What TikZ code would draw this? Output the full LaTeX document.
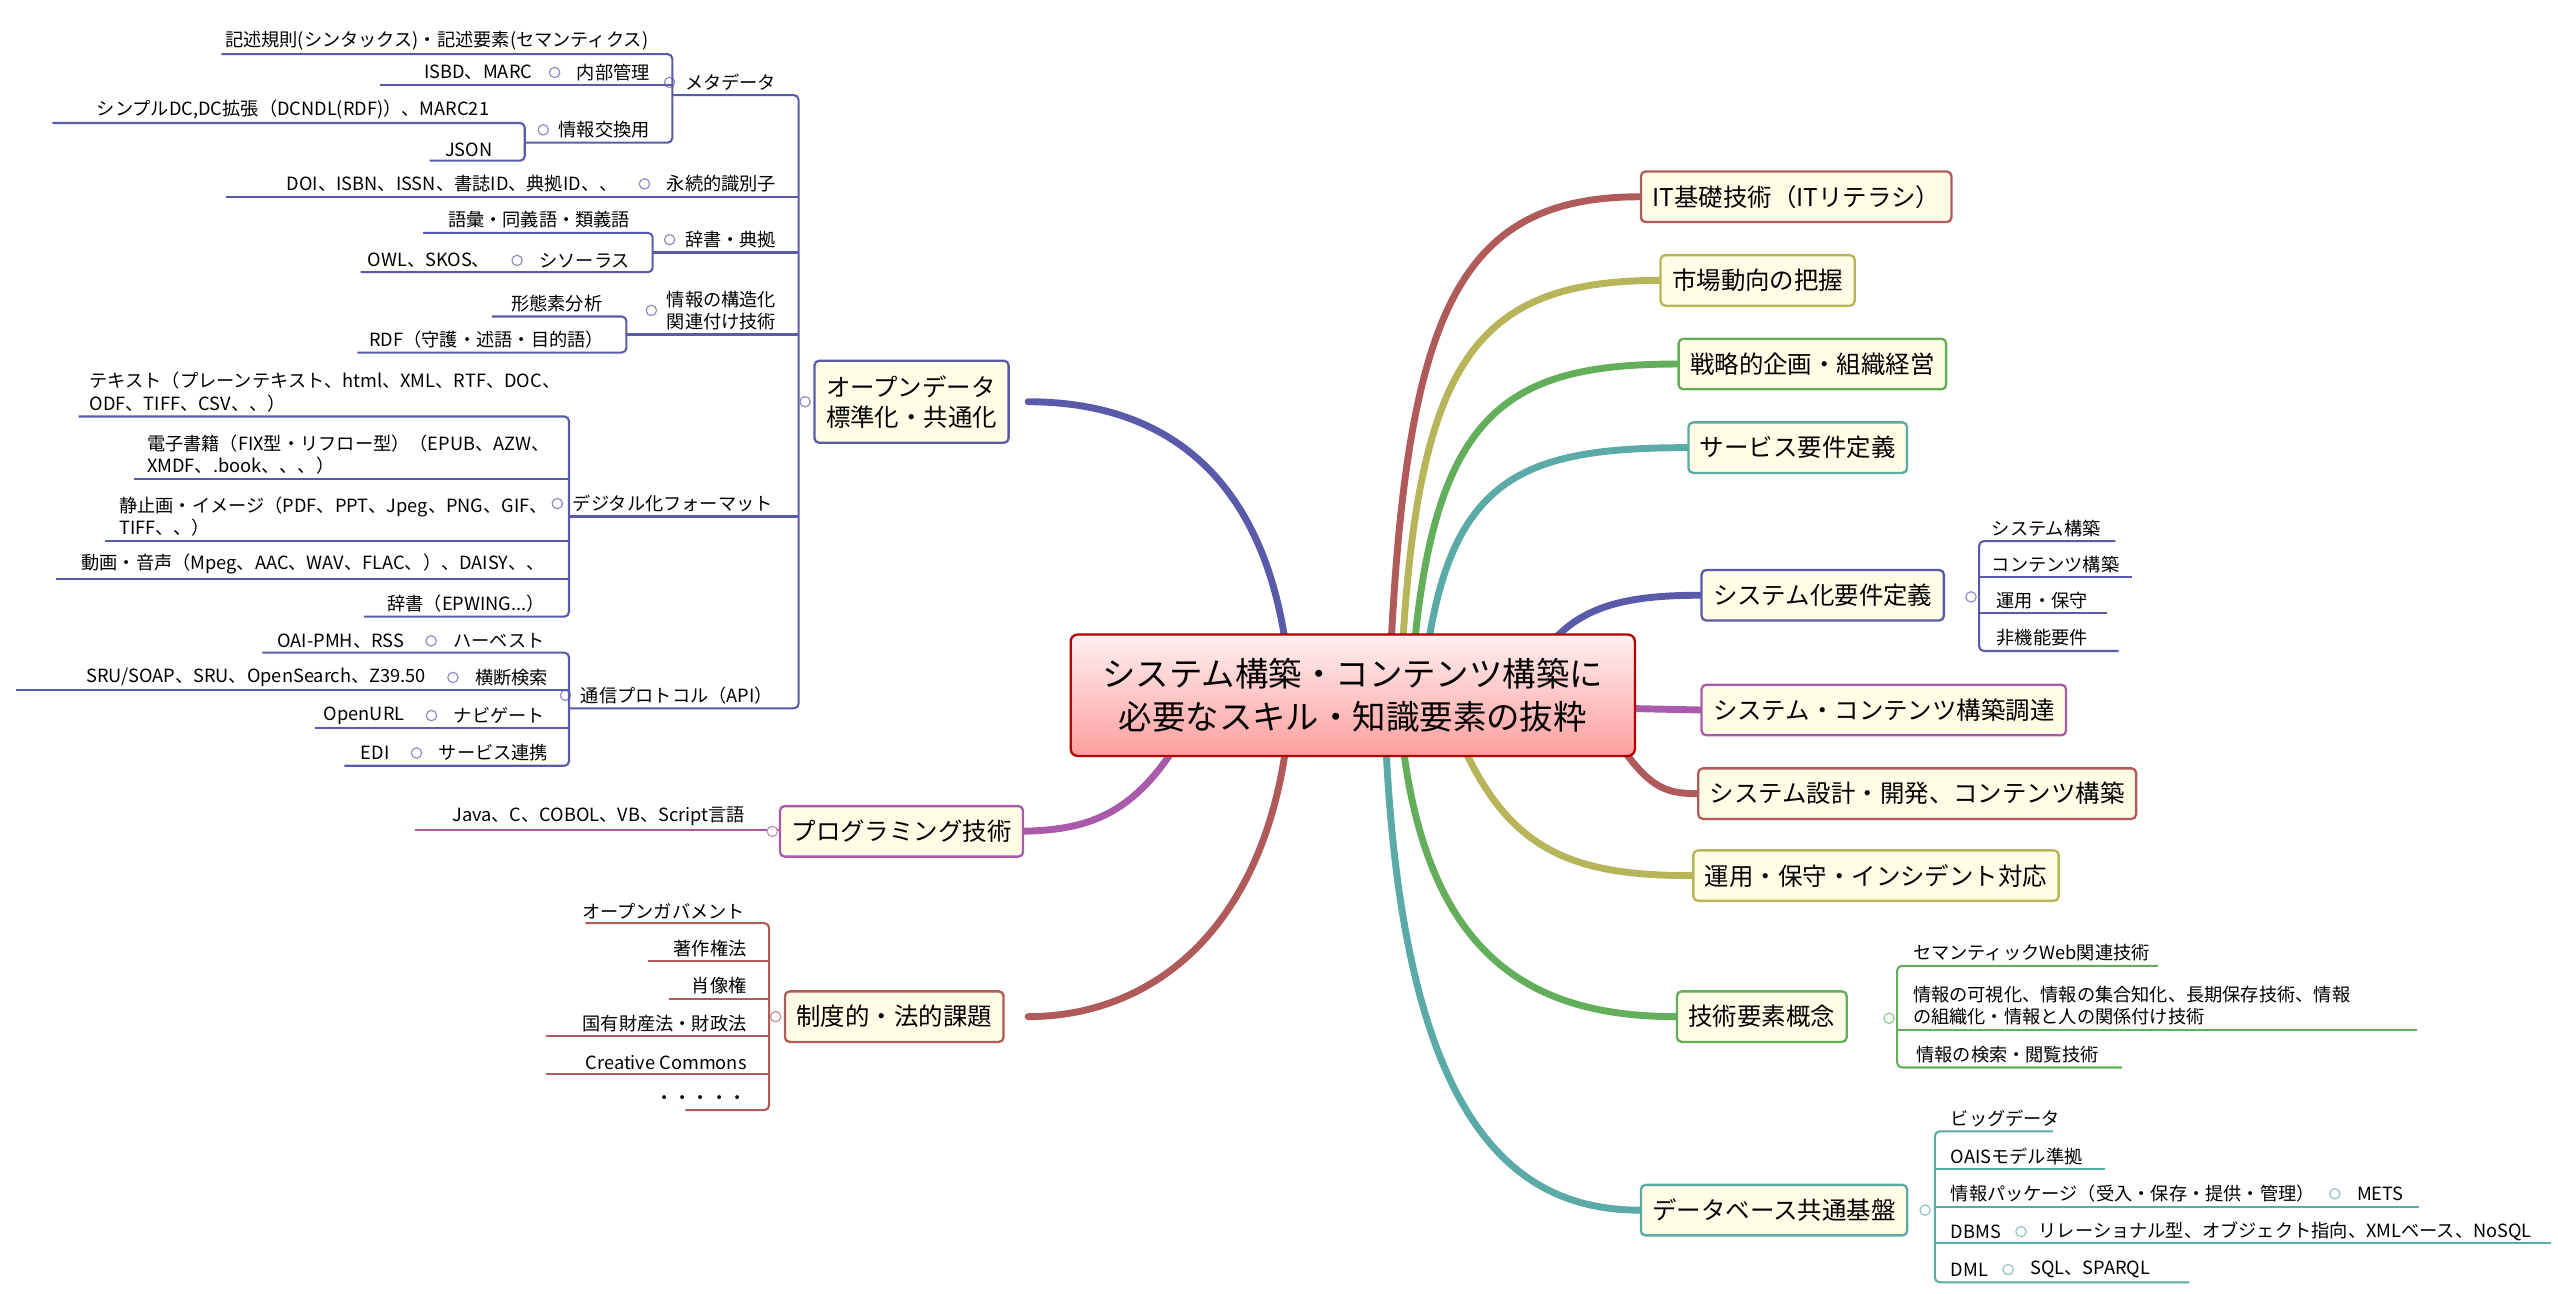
\documentclass[tikz,border=0pt]{standalone}
\usepackage{fontspec}
\setmainfont{Noto Sans CJK JP}
\usetikzlibrary{positioning}
\definecolor{cR}{HTML}{B05A5A}
\definecolor{cO}{HTML}{B8B45A}
\definecolor{cG}{HTML}{62AE5A}
\definecolor{cT}{HTML}{5AAAA8}
\definecolor{cB}{HTML}{5A5AAA}
\definecolor{cM}{HTML}{AA5AAA}
\definecolor{bfill}{HTML}{FFFDE6}
\tikzset{
 leaf/.style={font=\fontsize{7.9}{9.8}\selectfont, inner sep=1pt},
 mbox/.style={draw=#1, fill=bfill, rounded corners=2pt, line width=1pt, font=\fontsize{10.6}{13}\selectfont, inner xsep=5pt, minimum height=0.77cm, anchor=west},
 link/.style={draw=#1, line width=3pt, line cap=round},
 ln/.style={draw=#1, line width=0.9pt, rounded corners=2pt},
 tog/.style={circle, draw=#1!70, fill=white, inner sep=0pt, minimum size=4.5pt, line width=0.5pt}
}
\begin{document}
\begin{tikzpicture}[x=0.025cm,y=-0.025cm]
\useasboundingbox (0,0) rectangle (1560,789);
% connectors
\draw[link=cR] (848,400) .. controls (858,190) and (890,120) .. (1000,120);
\draw[link=cO] (855,400) .. controls (865,220) and (900,171) .. (1012,171);
\draw[link=cG] (862,400) .. controls (875,250) and (920,222) .. (1023,222);
\draw[link=cT] (870,400) .. controls (885,290) and (930,273) .. (1029,273);
\draw[link=cB] (940,400) .. controls (960,370) and (990,363) .. (1037,363);
\draw[link=cM] (990,432) -- (1037,433);
\draw[link=cR] (985,450) .. controls (1005,480) and (1015,484) .. (1035,484);
\draw[link=cO] (890,450) .. controls (920,520) and (960,534) .. (1032,534);
\draw[link=cG] (855,450) .. controls (870,580) and (930,620) .. (1022,620);
\draw[link=cT] (845,450) .. controls (855,680) and (920,738) .. (1000,738);
\draw[link=cB] (785,400) .. controls (770,280) and (700,245) .. (627,245);
\draw[link=cM] (720,450) .. controls (690,500) and (660,507) .. (617,507);
\draw[link=cR] (785,450) .. controls (770,570) and (700,620) .. (627,620);
% center
\node[draw=red!70!black, line width=1pt, rounded corners=3pt, top color=red!6, bottom color=red!38, minimum width=8.6cm, minimum height=1.85cm, align=center, font=\fontsize{14.5}{18.5}\selectfont] (center) at (825,424) {システム構築・コンテンツ構築に\\必要なスキル・知識要素の抜粋};
% right main boxes
\node[mbox=cR] (it) at (1000,120) {IT基礎技術（ITリテラシ）};
\node[mbox=cO] (mk) at (1012,171) {市場動向の把握};
\node[mbox=cG] (sk) at (1023,222) {戦略的企画・組織経営};
\node[mbox=cT] (sv) at (1029,273) {サービス要件定義};
\node[mbox=cB] (sy) at (1037,363) {システム化要件定義};
\node[mbox=cM] (ch) at (1037,433) {システム・コンテンツ構築調達};
\node[mbox=cR] (dv) at (1035,484) {システム設計・開発、コンテンツ構築};
\node[mbox=cO] (op) at (1032,534) {運用・保守・インシデント対応};
\node[mbox=cG] (te) at (1022,620) {技術要素概念};
\node[mbox=cT] (db) at (1000,738) {データベース共通基盤};
% left main boxes
\node[mbox=cB, align=left, minimum height=1.25cm] (od) at (496,245) {オープンデータ\\標準化・共通化};
\node[mbox=cM] (pg) at (475,507) {プログラミング技術};
\node[mbox=cR] (lw) at (478,620) {制度的・法的課題};
% ===== right children
\draw[ln=cB] (1290,330) -- (1207,330) -- (1207,397) -- (1292,397);
\draw[ln=cB] (1207,352) -- (1300,352); \draw[ln=cB] (1207,374) -- (1285,374);
\node[tog=cB] at (1202,364) {};
\node[leaf,anchor=south west] at (1213,329) {システム構築};
\node[leaf,anchor=south west] at (1213,351) {コンテンツ構築};
\node[leaf,anchor=south west] at (1216,373) {運用・保守};
\node[leaf,anchor=south west] at (1216,396) {非機能要件};
\draw[ln=cG] (1316,589) -- (1157,589) -- (1157,651) -- (1294,651);
\draw[ln=cG] (1157,628) -- (1474,628);
\node[tog=cG] at (1152,621) {};
\node[leaf,anchor=south west] at (1165,588) {セマンティックWeb関連技術};
\node[leaf,anchor=south west,align=left] at (1165,627) {情報の可視化、情報の集合知化、長期保存技術、情報\\の組織化・情報と人の関係付け技術};
\node[leaf,anchor=south west] at (1167,650) {情報の検索・閲覧技術};
\draw[ln=cT] (1252,690) -- (1180,690) -- (1180,782) -- (1335,782);
\draw[ln=cT] (1180,713) -- (1284,713); \draw[ln=cT] (1180,736) -- (1475,736); \draw[ln=cT] (1180,758) -- (1556,758);
\node[tog=cT] at (1174,738) {};
\node[leaf,anchor=south west] at (1188,689) {ビッグデータ};
\node[leaf,anchor=south west] at (1188,712) {OAISモデル準拠};
\node[leaf,anchor=south west] (ip) at (1188,735) {情報パッケージ（受入・保存・提供・管理）};
\node[tog=cT, right=5pt of ip] (t1) {}; \node[leaf,right=6pt of t1] {METS};
\node[leaf,anchor=south west] (dbms) at (1188,757) {DBMS};
\node[tog=cT, right=5pt of dbms] (t2) {}; \node[leaf,right=4pt of t2] {リレーショナル型、オブジェクト指向、XMLベース、NoSQL};
\node[leaf,anchor=south west] (dml) at (1188,780) {DML};
\node[tog=cT, right=5pt of dml] (t3) {}; \node[leaf,right=6pt of t3] {SQL、SPARQL};
% ===== left: open data
\draw[ln=cB] (410,58) -- (487,58) -- (487,432) -- (347,432);
\foreach \y/\x in {120/138,154/398,204/382,315/347} \draw[ln=cB] (\x,\y) -- (487,\y);
\node[tog=cB] at (491,245) {};
\node[leaf,anchor=south east] (md) at (475,57) {メタデータ}; \node[tog=cB, left=3pt of md] {};
\draw[ln=cB] (135,33) -- (410,33) -- (410,87) -- (320,87);
\draw[ln=cB] (232,52) -- (410,52);
\node[leaf,anchor=south east] at (397,32) {記述規則(シンタックス)・記述要素(セマンティクス)};
\node[leaf,anchor=south east] (a1) at (398,51) {内部管理}; \node[tog=cB, left=6pt of a1] (a1t) {};
\node[leaf,left=6pt of a1t] {ISBD、MARC};
\node[leaf,anchor=south east] (a2) at (398,86) {情報交換用}; \node[tog=cB, left=3pt of a2] {};
\draw[ln=cB] (32,75) -- (320,75) -- (320,98) -- (262,98);
\node[leaf,anchor=south east] at (300,74) {シンプルDC,DC拡張（DCNDL(RDF)）、MARC21};
\node[leaf,anchor=south east] at (302,97) {JSON};
\node[leaf,anchor=south east] (a3) at (475,119) {永続的識別子}; \node[tog=cB, left=6pt of a3] (a3t) {};
\node[leaf,left=8pt of a3t] {DOI、ISBN、ISSN、書誌ID、典拠ID、、};
\node[leaf,anchor=south east] (a4) at (475,153) {辞書・典拠}; \node[tog=cB, left=3pt of a4] {};
\draw[ln=cB] (258,142) -- (398,142) -- (398,166) -- (220,166);
\node[leaf,anchor=south east] at (386,141) {語彙・同義語・類義語};
\node[leaf,anchor=south east] (a5) at (386,165) {シソーラス}; \node[tog=cB, left=6pt of a5] (a5t) {};
\node[leaf,left=8pt of a5t] {OWL、SKOS、};
\node[leaf,anchor=south east,align=left] (a6) at (475,203) {情報の構造化\\関連付け技術}; \node[tog=cB, left=3pt of a6] {};
\draw[ln=cB] (300,193) -- (382,193) -- (382,215) -- (218,215);
\node[leaf,anchor=south east] at (369,192) {形態素分析};
\node[leaf,anchor=south east] at (370,214) {RDF（守護・述語・目的語）};
\node[leaf,anchor=south east] (a7) at (473,314) {デジタル化フォーマット}; \node[tog=cB, left=3pt of a7] {};
\draw[ln=cB] (48,254) -- (347,254) -- (347,376) -- (222,376);
\foreach \y/\x in {292/82,330/64,353/34} \draw[ln=cB] (\x,\y) -- (347,\y);
\node[leaf,anchor=south west,align=left] at (53,253) {テキスト（プレーンテキスト、html、XML、RTF、DOC、\\ODF、TIFF、CSV、、）};
\node[leaf,anchor=south west,align=left] at (88,291) {電子書籍（FIX型・リフロー型）（EPUB、AZW、\\XMDF、.book、、、）};
\node[leaf,anchor=south west,align=left] at (71,329) {静止画・イメージ（PDF、PPT、Jpeg、PNG、GIF、\\TIFF、、）};
\node[leaf,anchor=south east] at (334,352) {動画・音声（Mpeg、AAC、WAV、FLAC、）、DAISY、、};
\node[leaf,anchor=south east] at (334,375) {辞書（EPWING...）};
\node[leaf,anchor=south east] (a8) at (473,431) {通信プロトコル（API）}; \node[tog=cB, left=3pt of a8] {};
\draw[ln=cB] (160,398) -- (347,398) -- (347,467) -- (210,467);
\foreach \y/\x in {421/10,444/192} \draw[ln=cB] (\x,\y) -- (347,\y);
\node[leaf,anchor=south east] (b1) at (334,397) {ハーベスト}; \node[tog=cB, left=6pt of b1] (b1t) {};
\node[leaf,left=8pt of b1t] {OAI-PMH、RSS};
\node[leaf,anchor=south east] (b2) at (336,420) {横断検索}; \node[tog=cB, left=6pt of b2] (b2t) {};
\node[leaf,left=8pt of b2t] {SRU/SOAP、SRU、OpenSearch、Z39.50};
\node[leaf,anchor=south east] (b3) at (334,443) {ナビゲート}; \node[tog=cB, left=6pt of b3] (b3t) {};
\node[leaf,left=8pt of b3t] {OpenURL};
\node[leaf,anchor=south east] (b4) at (336,466) {サービス連携}; \node[tog=cB, left=6pt of b4] (b4t) {};
\node[leaf,left=8pt of b4t] {EDI};
% programming
\draw[ln=cM] (253,506) -- (475,506); \node[tog=cM] at (471,507) {};
\node[leaf,anchor=south east] at (456,505) {Java、C、COBOL、VB、Script言語};
% law
\draw[ln=cR] (357,563) -- (469,563) -- (469,677) -- (418,677);
\foreach \y/\x in {586/395,609/408,632/333,655/333} \draw[ln=cR] (\x,\y) -- (469,\y);
\node[tog=cR] at (473,620) {};
\node[leaf,anchor=south east] at (456,562) {オープンガバメント};
\node[leaf,anchor=south east] at (457,585) {著作権法};
\node[leaf,anchor=south east] at (457,608) {肖像権};
\node[leaf,anchor=south east] at (457,631) {国有財産法・財政法};
\node[leaf,anchor=south east] at (457,654) {Creative Commons};
\node[leaf,anchor=south east] at (457,675) {・・・・・};
\end{tikzpicture}
\end{document}
